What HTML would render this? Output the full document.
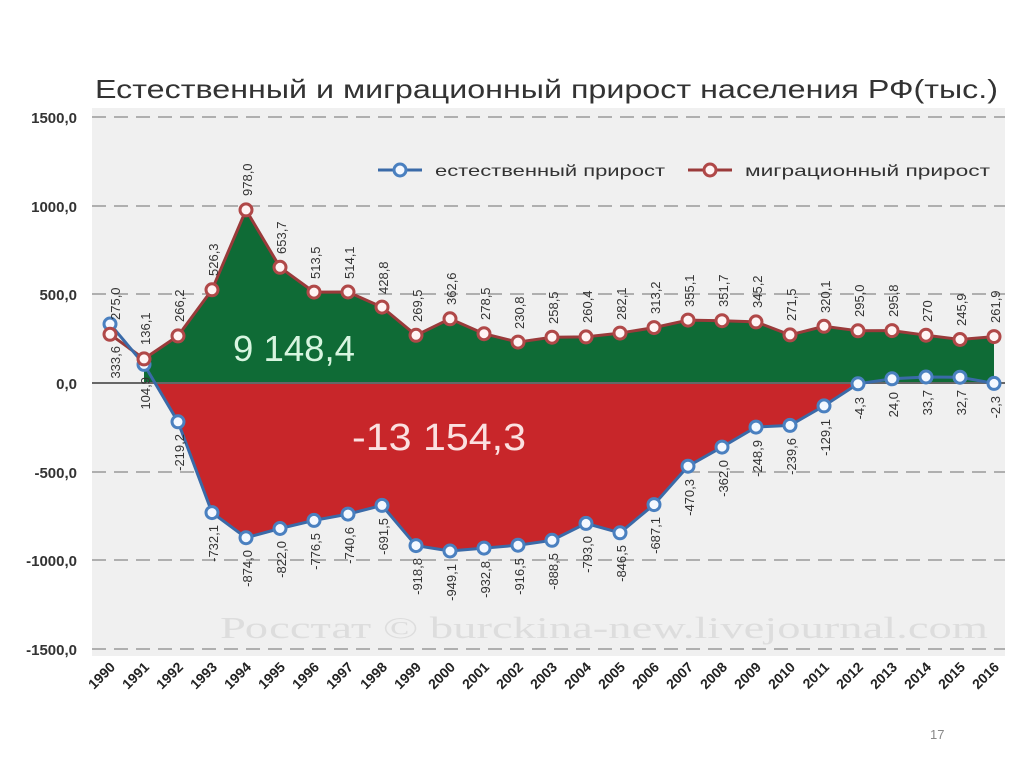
<!DOCTYPE html>
<html><head><meta charset="utf-8"><style>
body{margin:0;background:#fff;}
svg{display:block;font-family:"Liberation Sans","DejaVu Sans",sans-serif;}
.ml{font-size:13px;fill:#333;}
.yl{font-size:15px;fill:#333;font-weight:bold;text-anchor:end;}
.xl{font-size:14px;fill:#222;font-weight:bold;text-anchor:end;}
</style></head><body>
<svg width="1024" height="767" viewBox="0 0 1024 767">
<rect x="92" y="108" width="913" height="548" fill="#f0f0f0"/>
<text x="95" y="98" font-size="26" fill="#333" textLength="903" lengthAdjust="spacingAndGlyphs">Естественный и миграционный прирост населения РФ(тыс.)</text>
<g stroke="#999" stroke-dasharray="14,8" stroke-width="1.5">
<line x1="92" y1="117" x2="1005" y2="117"/><line x1="92" y1="206" x2="1005" y2="206"/>
<line x1="92" y1="294" x2="1005" y2="294"/><line x1="92" y1="472" x2="1005" y2="472"/>
<line x1="92" y1="560" x2="1005" y2="560"/><line x1="92" y1="649" x2="1005" y2="649"/>
</g>
<g class="yl"><text x="77" y="123">1500,0</text><text x="77" y="212">1000,0</text><text x="77" y="300">500,0</text><text x="77" y="389">0,0</text><text x="77" y="478">-500,0</text><text x="77" y="566">-1000,0</text><text x="77" y="655">-1500,0</text></g>
<text x="220" y="638" font-size="31" fill="#ddd" font-family="Liberation Serif,serif" textLength="768" lengthAdjust="spacingAndGlyphs">Росстат © burckina-new.livejournal.com</text>
<polygon fill="#0f6b36" points="144,383 144,358.9 178,335.9 212,289.8 246,209.9 280,267.3 314,292.1 348,292 382,307.1 416,335.3 450,318.8 484,333.7 518,342.1 552,337.2 586,336.9 620,333.1 654,327.6 688,320.1 722,320.7 756,321.9 790,334.9 824,326.3 858,330.8 892,330.6 926,335.2 960,339.5 994,336.6 994,383"/>
<polygon fill="#c8262a" points="155,383 178,421.8 212,512.6 246,537.7 280,528.5 314,520.4 348,514.1 382,505.4 416,545.6 450,551 484,548.1 518,545.2 552,540.3 586,523.4 620,532.8 654,504.6 688,466.2 722,447.1 756,427.1 790,425.4 824,405.9 856,383"/>
<line x1="92" y1="383" x2="1005" y2="383" stroke="#666" stroke-width="2"/>
<text x="233" y="361" font-size="36" fill="#d8f5e0" textLength="122" lengthAdjust="spacingAndGlyphs">9 148,4</text>
<text x="352" y="450" font-size="38" fill="#fbe0e0" textLength="174" lengthAdjust="spacingAndGlyphs">-13 154,3</text>
<polyline fill="none" stroke="#9a3a3a" stroke-width="3" points="110,334.3 144,358.9 178,335.9 212,289.8 246,209.9 280,267.3 314,292.1 348,292 382,307.1 416,335.3 450,318.8 484,333.7 518,342.1 552,337.2 586,336.9 620,333.1 654,327.6 688,320.1 722,320.7 756,321.9 790,334.9 824,326.3 858,330.8 892,330.6 926,335.2 960,339.5 994,336.6"/>
<polyline fill="none" stroke="#3a6aa8" stroke-width="3" points="110,324 144,364.4 178,421.8 212,512.6 246,537.7 280,528.5 314,520.4 348,514.1 382,505.4 416,545.6 450,551 484,548.1 518,545.2 552,540.3 586,523.4 620,532.8 654,504.6 688,466.2 722,447.1 756,427.1 790,425.4 824,405.9 858,383.8 892,378.8 926,377 960,377.2 994,383.4"/>
<g fill="#f4f8ff" stroke="#4a80c0" stroke-width="3">
<circle cx="110" cy="324" r="6"/><circle cx="144" cy="364.4" r="6"/><circle cx="178" cy="421.8" r="6"/><circle cx="212" cy="512.6" r="6"/><circle cx="246" cy="537.7" r="6"/><circle cx="280" cy="528.5" r="6"/><circle cx="314" cy="520.4" r="6"/><circle cx="348" cy="514.1" r="6"/><circle cx="382" cy="505.4" r="6"/><circle cx="416" cy="545.6" r="6"/><circle cx="450" cy="551" r="6"/><circle cx="484" cy="548.1" r="6"/><circle cx="518" cy="545.2" r="6"/><circle cx="552" cy="540.3" r="6"/><circle cx="586" cy="523.4" r="6"/><circle cx="620" cy="532.8" r="6"/><circle cx="654" cy="504.6" r="6"/><circle cx="688" cy="466.2" r="6"/><circle cx="722" cy="447.1" r="6"/><circle cx="756" cy="427.1" r="6"/><circle cx="790" cy="425.4" r="6"/><circle cx="824" cy="405.9" r="6"/><circle cx="858" cy="383.8" r="6"/><circle cx="892" cy="378.8" r="6"/><circle cx="926" cy="377" r="6"/><circle cx="960" cy="377.2" r="6"/><circle cx="994" cy="383.4" r="6"/>
</g>
<g fill="#fff4f4" stroke="#b04848" stroke-width="3">
<circle cx="110" cy="334.3" r="6"/><circle cx="144" cy="358.9" r="6"/><circle cx="178" cy="335.9" r="6"/><circle cx="212" cy="289.8" r="6"/><circle cx="246" cy="209.9" r="6"/><circle cx="280" cy="267.3" r="6"/><circle cx="314" cy="292.1" r="6"/><circle cx="348" cy="292" r="6"/><circle cx="382" cy="307.1" r="6"/><circle cx="416" cy="335.3" r="6"/><circle cx="450" cy="318.8" r="6"/><circle cx="484" cy="333.7" r="6"/><circle cx="518" cy="342.1" r="6"/><circle cx="552" cy="337.2" r="6"/><circle cx="586" cy="336.9" r="6"/><circle cx="620" cy="333.1" r="6"/><circle cx="654" cy="327.6" r="6"/><circle cx="688" cy="320.1" r="6"/><circle cx="722" cy="320.7" r="6"/><circle cx="756" cy="321.9" r="6"/><circle cx="790" cy="334.9" r="6"/><circle cx="824" cy="326.3" r="6"/><circle cx="858" cy="330.8" r="6"/><circle cx="892" cy="330.6" r="6"/><circle cx="926" cy="335.2" r="6"/><circle cx="960" cy="339.5" r="6"/><circle cx="994" cy="336.6" r="6"/>
</g>
<g class="ml">
<text transform="translate(120,320) rotate(-90)">275,0</text>
<text transform="translate(150,345) rotate(-90)">136,1</text>
<text transform="translate(184,322) rotate(-90)">266,2</text>
<text transform="translate(218,276) rotate(-90)">526,3</text>
<text transform="translate(252,196) rotate(-90)">978,0</text>
<text transform="translate(286,254) rotate(-90)">653,7</text>
<text transform="translate(320,279) rotate(-90)">513,5</text>
<text transform="translate(354,279) rotate(-90)">514,1</text>
<text transform="translate(388,294) rotate(-90)">428,8</text>
<text transform="translate(422,322) rotate(-90)">269,5</text>
<text transform="translate(456,305) rotate(-90)">362,6</text>
<text transform="translate(490,320) rotate(-90)">278,5</text>
<text transform="translate(524,329) rotate(-90)">230,8</text>
<text transform="translate(558,324) rotate(-90)">258,5</text>
<text transform="translate(592,323) rotate(-90)">260,4</text>
<text transform="translate(626,320) rotate(-90)">282,1</text>
<text transform="translate(660,314) rotate(-90)">313,2</text>
<text transform="translate(694,307) rotate(-90)">355,1</text>
<text transform="translate(728,307) rotate(-90)">351,7</text>
<text transform="translate(762,308) rotate(-90)">345,2</text>
<text transform="translate(796,321) rotate(-90)">271,5</text>
<text transform="translate(830,313) rotate(-90)">320,1</text>
<text transform="translate(864,317) rotate(-90)">295,0</text>
<text transform="translate(898,317) rotate(-90)">295,8</text>
<text transform="translate(932,322) rotate(-90)">270</text>
<text transform="translate(966,326) rotate(-90)">245,9</text>
<text transform="translate(1000,323) rotate(-90)">261,9</text>
</g>
<g class="ml" text-anchor="end">
<text transform="translate(120,346) rotate(-90)">333,6</text>
<text transform="translate(150,377) rotate(-90)">104,9</text>
<text transform="translate(184,434) rotate(-90)">-219,2</text>
<text transform="translate(218,525) rotate(-90)">-732,1</text>
<text transform="translate(252,550) rotate(-90)">-874,0</text>
<text transform="translate(286,541) rotate(-90)">-822,0</text>
<text transform="translate(320,533) rotate(-90)">-776,5</text>
<text transform="translate(354,527) rotate(-90)">-740,6</text>
<text transform="translate(388,518) rotate(-90)">-691,5</text>
<text transform="translate(422,558) rotate(-90)">-918,8</text>
<text transform="translate(456,564) rotate(-90)">-949,1</text>
<text transform="translate(490,561) rotate(-90)">-932,8</text>
<text transform="translate(524,558) rotate(-90)">-916,5</text>
<text transform="translate(558,553) rotate(-90)">-888,5</text>
<text transform="translate(592,536) rotate(-90)">-793,0</text>
<text transform="translate(626,545) rotate(-90)">-846,5</text>
<text transform="translate(660,517) rotate(-90)">-687,1</text>
<text transform="translate(694,479) rotate(-90)">-470,3</text>
<text transform="translate(728,460) rotate(-90)">-362,0</text>
<text transform="translate(762,440) rotate(-90)">-248,9</text>
<text transform="translate(796,438) rotate(-90)">-239,6</text>
<text transform="translate(830,419) rotate(-90)">-129,1</text>
<text transform="translate(864,397) rotate(-90)">-4,3</text>
<text transform="translate(898,392) rotate(-90)">24,0</text>
<text transform="translate(932,390) rotate(-90)">33,7</text>
<text transform="translate(966,390) rotate(-90)">32,7</text>
<text transform="translate(1000,396) rotate(-90)">-2,3</text>
</g>
<line x1="378" y1="170" x2="422" y2="170" stroke="#3a6aa8" stroke-width="3"/>
<circle cx="400" cy="170" r="6" fill="#f4f8ff" stroke="#4a80c0" stroke-width="3"/>
<text x="435" y="176" font-size="16" fill="#333" textLength="230" lengthAdjust="spacingAndGlyphs">естественный прирост</text>
<line x1="688" y1="170" x2="732" y2="170" stroke="#9a3a3a" stroke-width="3"/>
<circle cx="710" cy="170" r="6" fill="#fff4f4" stroke="#b04848" stroke-width="3"/>
<text x="745" y="176" font-size="16" fill="#333" textLength="245" lengthAdjust="spacingAndGlyphs">миграционный прирост</text>
<g class="xl">
<text transform="translate(116,668) rotate(-45)">1990</text><text transform="translate(150,668) rotate(-45)">1991</text><text transform="translate(184,668) rotate(-45)">1992</text><text transform="translate(218,668) rotate(-45)">1993</text><text transform="translate(252,668) rotate(-45)">1994</text><text transform="translate(286,668) rotate(-45)">1995</text><text transform="translate(320,668) rotate(-45)">1996</text><text transform="translate(354,668) rotate(-45)">1997</text><text transform="translate(388,668) rotate(-45)">1998</text><text transform="translate(422,668) rotate(-45)">1999</text><text transform="translate(456,668) rotate(-45)">2000</text><text transform="translate(490,668) rotate(-45)">2001</text><text transform="translate(524,668) rotate(-45)">2002</text><text transform="translate(558,668) rotate(-45)">2003</text><text transform="translate(592,668) rotate(-45)">2004</text><text transform="translate(626,668) rotate(-45)">2005</text><text transform="translate(660,668) rotate(-45)">2006</text><text transform="translate(694,668) rotate(-45)">2007</text><text transform="translate(728,668) rotate(-45)">2008</text><text transform="translate(762,668) rotate(-45)">2009</text><text transform="translate(796,668) rotate(-45)">2010</text><text transform="translate(830,668) rotate(-45)">2011</text><text transform="translate(864,668) rotate(-45)">2012</text><text transform="translate(898,668) rotate(-45)">2013</text><text transform="translate(932,668) rotate(-45)">2014</text><text transform="translate(966,668) rotate(-45)">2015</text><text transform="translate(1000,668) rotate(-45)">2016</text>
</g>
<text x="930" y="739" font-size="13" fill="#888">17</text>
</svg>
</body></html>
